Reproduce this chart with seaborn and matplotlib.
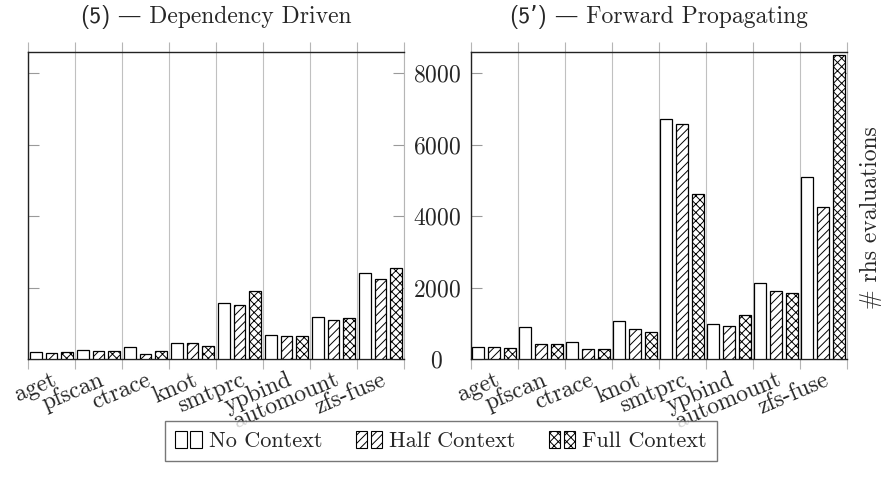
import matplotlib
matplotlib.use('Agg')
import matplotlib.pyplot as plt
import seaborn as sns
import pandas as pd
import numpy as np
from matplotlib.patches import Patch
from matplotlib.legend_handler import HandlerTuple
from matplotlib.offsetbox import TextArea, HPacker, AnchoredOffsetbox
from matplotlib.transforms import ScaledTranslation

# ---- data ----
programs = ['aget', 'pfscan', 'ctrace', 'knot', 'smtprc', 'ypbind', 'automount', 'zfs-fuse']
contexts = ['No Context', 'Half Context', 'Full Context']

dd_no = [190, 250, 335, 445, 1555, 670, 1180, 2420]
dd_half = [180, 225, 150, 435, 1525, 635, 1090, 2230]
dd_full = [185, 225, 215, 375, 1915, 650, 1135, 2560]

fp_no = [330, 885, 490, 1060, 6730, 975, 2140, 5105]
fp_half = [330, 420, 270, 845, 6575, 930, 1915, 4270]
fp_full = [320, 420, 290, 745, 4610, 1245, 1860, 8510]

y_ticks = [0, 2000, 4000, 6000, 8000]
hatches = ['', '////', 'xxxx']

# ---- style ----
sns.set_style('white')
plt.rcParams['font.family'] = ['cmr10', 'DejaVu Serif']
plt.rcParams['mathtext.fontset'] = 'cm'
plt.rcParams['axes.formatter.use_mathtext'] = True
plt.rcParams['hatch.linewidth'] = 0.7
plt.rcParams['hatch.color'] = 'black'

FS = 17

fig = plt.figure(figsize=(8.93, 4.93), dpi=100)
bottom = (493 - 359) / 493
height = 307 / 493
ax1 = fig.add_axes([28 / 893, bottom, 376 / 893, height])
ax2 = fig.add_axes([470.5 / 893, bottom, 376 / 893, height])


def draw(ax, no, half, full, prefix, rest, show_labels):
    df = pd.DataFrame({
        'program': programs * 3,
        'value': no + half + full,
        'context': [c for c in contexts for _ in programs],
    })
    sns.barplot(data=df, x='program', y='value', hue='context',
                order=programs, hue_order=contexts,
                palette={c: 'white' for c in contexts},
                edgecolor='black', linewidth=0.9, width=1.0, gap=0.25,
                legend=False, errorbar=None, ax=ax, zorder=3)
    for cont, h in zip(ax.containers, hatches):
        for p in cont:
            p.set_hatch(h)
    ax.set_xlim(-0.5, 7.5)
    ax.set_ylim(0, 8600)
    ax.set_xlabel('')
    ax.set_ylabel('')
    ax.set_xticks(range(len(programs)))
    ax.set_xticklabels(programs, rotation=23, ha='right',
                       rotation_mode='anchor', fontsize=FS)
    shift = ScaledTranslation(3 / 100, 0, fig.dpi_scale_trans)
    for lab in ax.get_xticklabels():
        lab.set_transform(lab.get_transform() + shift)
    ax.set_xticks(np.arange(-0.5, len(programs), 1), minor=True)
    ax.tick_params(axis='x', which='major', length=0, pad=7)
    ax.tick_params(axis='x', which='minor', length=7.5, width=0.8,
                   color='#b5b5b5', top=True, bottom=True, direction='out')
    ax.grid(axis='x', which='minor', color='#c0c0c0', lw=0.8)
    ax.grid(axis='y', visible=False)
    ax.grid(axis='x', which='major', visible=False)
    ax.set_axisbelow(True)
    ax.set_yticks(y_ticks)
    ax.tick_params(axis='y', which='major', direction='in', length=8,
                   width=0.8, color='#9a9a9a', left=True, right=True,
                   labelleft=show_labels, labelright=False,
                   labelsize=FS, pad=24.3)
    if show_labels:
        for lab in ax.get_yticklabels():
            lab.set_ha('center')
    for s in ['left', 'top', 'bottom']:
        ax.spines[s].set_color('#222222')
        ax.spines[s].set_linewidth(1.0)
    ax.spines['right'].set_color('#b5b5b5')
    ax.spines['right'].set_linewidth(0.8)

    ta1 = TextArea(prefix, textprops=dict(family=['cmss10', 'DejaVu Sans'],
                                          size=FS))
    ta2 = TextArea(' \u2014 ' + rest,
                   textprops=dict(family=['cmr10', 'DejaVu Serif'], size=FS))
    box = HPacker(children=[ta1, ta2], align='baseline', pad=0, sep=0)
    anch = AnchoredOffsetbox(loc='lower center', child=box, pad=0,
                             borderpad=0, frameon=False,
                             bbox_to_anchor=(0.5, 1.075),
                             bbox_transform=ax.transAxes)
    ax.add_artist(anch)


draw(ax1, dd_no, dd_half, dd_full, '(5)', 'Dependency Driven', False)
draw(ax2, fp_no, fp_half, fp_full, "(5\u2019)", 'Forward Propagating', True)

fig.text(871 / 893, 1 - 218 / 493, '# rhs evaluations', rotation=90,
         ha='center', va='center', fontsize=FS)

handles = []
for h in hatches:
    p = Patch(facecolor='white', edgecolor='black', hatch=h, lw=0.8)
    handles.append((p, p))
leg = fig.legend(handles, contexts,
                 handler_map={tuple: HandlerTuple(ndivide=None, pad=0.15)},
                 loc='center', bbox_to_anchor=(441 / 893, 1 - 441 / 493),
                 ncol=3, frameon=True, fancybox=False, edgecolor='#555555',
                 fontsize=16, handlelength=1.2, handleheight=0.8,
                 handletextpad=0.3, columnspacing=1.5, borderpad=0.45)
leg.get_frame().set_linewidth(1.0)

fig.savefig('out.png', dpi=100)
